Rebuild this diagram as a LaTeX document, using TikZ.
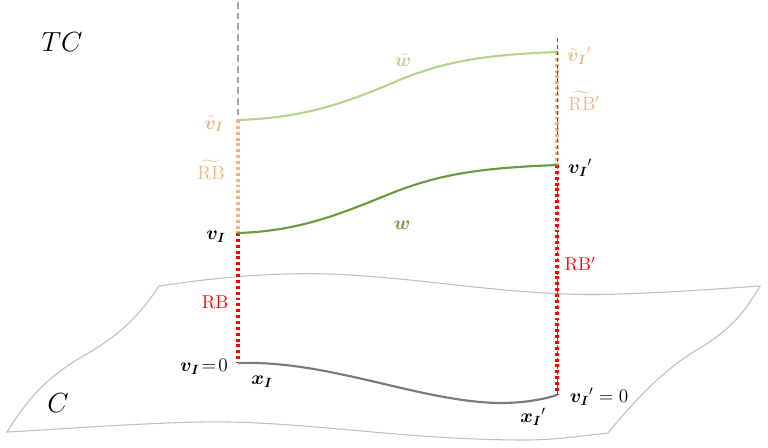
\documentclass[tikz,border=0pt]{standalone}
\usepackage{amsmath,bm}
\begin{document}
\begin{tikzpicture}[x=0.75pt,y=-0.75pt,
  lbl/.style={inner sep=0pt,font=\fontsize{14}{16}\selectfont},
  big/.style={inner sep=0pt,font=\fontsize{22}{24}\selectfont},
  surf/.style={draw=black!25,line width=0.8pt},
  guide/.style={draw=black!35,dash pattern=on 5pt off 3pt,line width=0.8pt},
  guidethin/.style={draw=black!65,dash pattern=on 3pt off 2pt,line width=0.5pt},
  rbdot/.style={draw=red,line width=2.6pt,dash pattern=on 2.2pt off 2.2pt},
  rbtdot/.style={draw=ltorange,line width=2.6pt,dash pattern=on 2.2pt off 2.2pt},
]
\definecolor{ltorange}{HTML}{F4B183}
\definecolor{ltgreen}{HTML}{B4D58F}
\definecolor{dkgreen}{HTML}{6A9A3C}
\definecolor{curvegray}{HTML}{7A7A7A}
\useasboundingbox (0,0) rectangle (768,447);

% surface C
\draw[surf] (159,286) .. controls (200,280) and (260,272) .. (330,274)
  .. controls (430,278) and (520,298) .. (620,294)
  .. controls (680,292) and (730,288) .. (760,286)
  .. controls (745,312) and (730,330) .. (700,348)
  .. controls (665,368) and (635,400) .. (608,433)
  .. controls (580,436) and (555,440) .. (525,440)
  .. controls (400,440) and (300,420) .. (200,422)
  .. controls (120,424) and (50,430) .. (7,432)
  .. controls (30,395) and (50,375) .. (85,355)
  .. controls (120,335) and (140,315) .. (159,286) -- cycle;

% key points
\coordinate (ltop) at (238,2);
\coordinate (lvt) at (238,120);
\coordinate (lv) at (238,233);
\coordinate (lx) at (238,363);
\coordinate (rtop) at (557,38);
\coordinate (rvt) at (557,52);
\coordinate (rv) at (557,165);
\coordinate (rx) at (557,395);

% vertical guides
\draw[guide] (ltop) -- (lvt);
\draw[rbtdot] (lvt) -- (lv);
\draw[rbdot] (lv) -- (lx);
\draw[rbtdot] (rvt) -- (rv);
\draw[rbdot] (rv) -- (rx);
\draw[guidethin] (rtop) -- (rx);

% curves
\draw[ltgreen,line width=1.6pt] (lvt) .. controls (300,118) and (340,105) .. (390,84)
  .. controls (440,62) and (480,55) .. (rvt);
\draw[dkgreen,line width=1.6pt] (lv) .. controls (300,231) and (340,214) .. (392,193)
  .. controls (440,174) and (480,168) .. (rv);
\draw[curvegray,line width=1.6pt] (lx) .. controls (330,360) and (420,402) .. (500,403)
  .. controls (525,403) and (545,399) .. (rx);

% labels
\node[big] (tc) at (62,42) {$TC$};
\node[big] (c) at (58,403) {$C$};
\node[lbl,text=ltorange] (vtl) at (214,124) {$\tilde{\bm v}_{\bm I}$};
\node[lbl,text=ltorange] (rbtl) at (211,170) {$\widetilde{\mathrm{RB}}$};
\node[lbl] (vl) at (216,237) {$\bm v_{\bm I}$};
\node[lbl,text=red] (rbl) at (215,302) {RB};
\node[lbl] (vl0) at (204,367) {$\bm v_{\bm I}\!=\!0$};
\node[lbl] (xl) at (262,382) {$\bm x_{\bm I}$};
\node[lbl,text=ltorange] (vtr) at (579,56) {$\tilde{\bm v}_{\bm I}{}'$};
\node[lbl,text=ltorange] (rbtr) at (584,101) {$\widetilde{\mathrm{RB}}{}'$};
\node[lbl] (vr) at (580,168) {$\bm v_{\bm I}{}'$};
\node[lbl,text=red] (rbr) at (580,264) {RB$'$};
\node[lbl] (vr0) at (599,397) {$\bm v_{\bm I}{}' = 0$};
\node[lbl] (xr) at (533,417) {$\bm x_{\bm I}{}'$};
\node[lbl,text=ltgreen] (wt) at (403,60) {$\tilde{\bm w}$};
\node[lbl,text=dkgreen] (w) at (402,225) {$\bm w$};
\end{tikzpicture}
\end{document}
